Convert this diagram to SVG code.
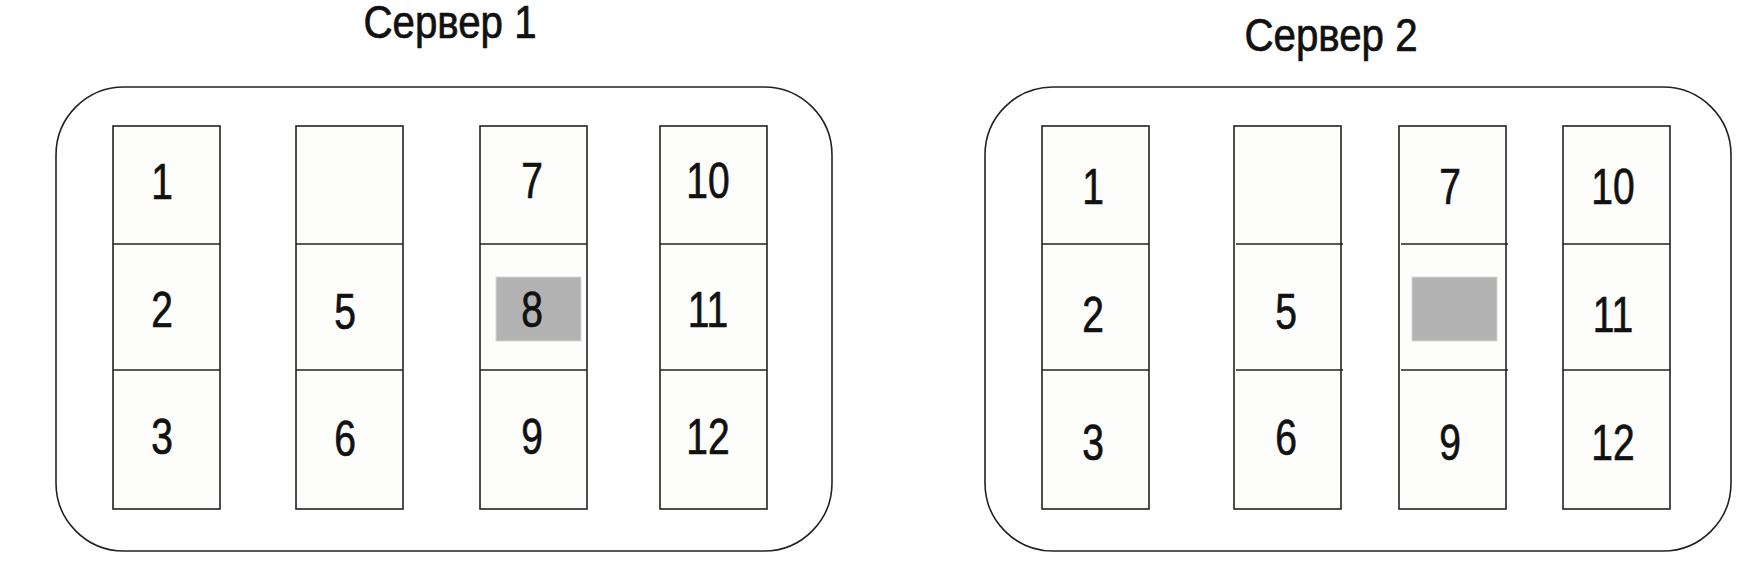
<svg xmlns="http://www.w3.org/2000/svg" width="1752" height="576" viewBox="0 0 1752 576">
<style>
.bg{fill:#ffffff}
.srv{fill:#ffffff;stroke:#222;stroke-width:1.6}
.col{fill:#fdfefc;stroke:#222;stroke-width:1.6}
.div{stroke:#222;stroke-width:1.6;fill:none}
.hl{fill:#b3b3b3;stroke:#d6d6d6;stroke-width:1}
.t{font-family:"Liberation Sans",Arial,sans-serif;fill:#111;stroke:#111;stroke-width:0.7;text-anchor:middle}
.title{font-size:46px}
.num{font-size:50px}
</style>
<rect class="bg" x="0" y="0" width="1752" height="576"/>

<g id="server1">
  <text class="t title" transform="translate(450,38) scale(0.875,1)">Сервер 1</text>
  <rect class="srv" x="56" y="87" width="776" height="464" rx="68" ry="68"/>
  <g id="s1-col1">
    <rect class="col" x="113" y="126" width="107" height="383"/>
    <line class="div" x1="113" y1="244" x2="220" y2="244"/>
    <line class="div" x1="113" y1="370" x2="220" y2="370"/>
    <text class="t num" transform="translate(162,199) scale(0.78,1)">1</text>
    <text class="t num" transform="translate(162,327) scale(0.78,1)">2</text>
    <text class="t num" transform="translate(162,454) scale(0.78,1)">3</text>
  </g>
  <g id="s1-col2">
    <rect class="col" x="296" y="126" width="107" height="383"/>
    <line class="div" x1="296" y1="244" x2="403" y2="244"/>
    <line class="div" x1="296" y1="370" x2="403" y2="370"/>
    <text class="t num" transform="translate(345,329) scale(0.78,1)">5</text>
    <text class="t num" transform="translate(345,456) scale(0.78,1)">6</text>
  </g>
  <g id="s1-col3">
    <rect class="col" x="480" y="126" width="107" height="383"/>
    <line class="div" x1="480" y1="244" x2="587" y2="244"/>
    <line class="div" x1="480" y1="370" x2="587" y2="370"/>
    <rect class="hl" x="496" y="277" width="85" height="64"/>
    <text class="t num" transform="translate(532,198) scale(0.78,1)">7</text>
    <text class="t num" transform="translate(532,327) scale(0.78,1)">8</text>
    <text class="t num" transform="translate(532,454) scale(0.78,1)">9</text>
  </g>
  <g id="s1-col4">
    <rect class="col" x="660" y="126" width="107" height="383"/>
    <line class="div" x1="660" y1="244" x2="767" y2="244"/>
    <line class="div" x1="660" y1="370" x2="767" y2="370"/>
    <text class="t num" transform="translate(708,198) scale(0.78,1)">10</text>
    <text class="t num" transform="translate(708,327) scale(0.78,1)">11</text>
    <text class="t num" transform="translate(708,454) scale(0.78,1)">12</text>
  </g>
</g>

<g id="server2">
  <text class="t title" transform="translate(1331,51) scale(0.875,1)">Сервер 2</text>
  <rect class="srv" x="985" y="87" width="746" height="464" rx="68" ry="68"/>
  <g id="s2-col1">
    <rect class="col" x="1042" y="126" width="107" height="383"/>
    <line class="div" x1="1042" y1="244" x2="1149" y2="244"/>
    <line class="div" x1="1042" y1="370" x2="1149" y2="370"/>
    <text class="t num" transform="translate(1093,204) scale(0.78,1)">1</text>
    <text class="t num" transform="translate(1093,332) scale(0.78,1)">2</text>
    <text class="t num" transform="translate(1093,460) scale(0.78,1)">3</text>
  </g>
  <g id="s2-col2">
    <rect class="col" x="1234" y="126" width="107" height="383"/>
    <line class="div" x1="1236" y1="244" x2="1343" y2="244"/>
    <line class="div" x1="1236" y1="370" x2="1343" y2="370"/>
    <text class="t num" transform="translate(1286,329) scale(0.78,1)">5</text>
    <text class="t num" transform="translate(1286,455) scale(0.78,1)">6</text>
  </g>
  <g id="s2-col3">
    <rect class="col" x="1399" y="126" width="107" height="383"/>
    <line class="div" x1="1401" y1="244" x2="1508" y2="244"/>
    <line class="div" x1="1401" y1="370" x2="1508" y2="370"/>
    <rect class="hl" x="1412" y="277" width="85" height="64"/>
    <text class="t num" transform="translate(1450,204) scale(0.78,1)">7</text>
    <text class="t num" transform="translate(1450,460) scale(0.78,1)">9</text>
  </g>
  <g id="s2-col4">
    <rect class="col" x="1563" y="126" width="107" height="383"/>
    <line class="div" x1="1563" y1="244" x2="1670" y2="244"/>
    <line class="div" x1="1563" y1="370" x2="1670" y2="370"/>
    <text class="t num" transform="translate(1613,204) scale(0.78,1)">10</text>
    <text class="t num" transform="translate(1613,332) scale(0.78,1)">11</text>
    <text class="t num" transform="translate(1613,460) scale(0.78,1)">12</text>
  </g>
</g>

<g id="connectors"></g>
</svg>
